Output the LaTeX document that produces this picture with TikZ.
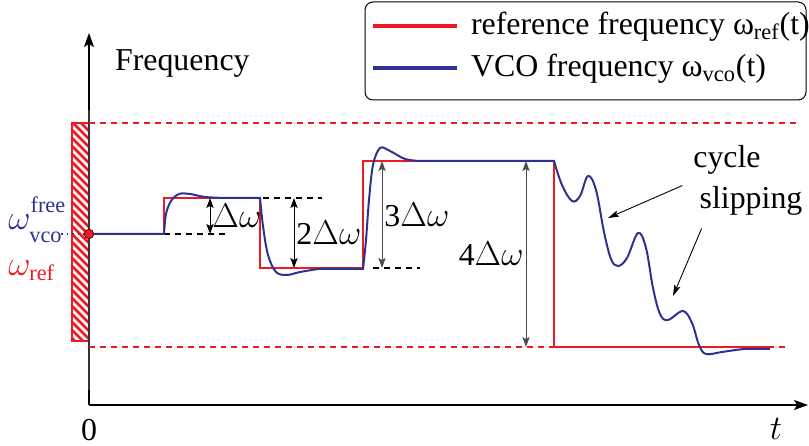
\documentclass[tikz,border=0pt]{standalone}
\usepackage{amsmath}
\usepackage{fontspec}
\setmainfont{Liberation Serif}
\usetikzlibrary{arrows.meta}
\definecolor{refred}{RGB}{237,28,36}
\definecolor{vcoblue}{RGB}{46,49,146}

\tikzset{
  axisline/.style={line width=0.7pt, -{Stealth[length=7pt,width=5pt,inset=1.5pt]}},
  refline/.style={refred, line width=1.2pt},
  vcoline/.style={vcoblue, line width=1pt},
  levelmark/.style={dash pattern=on 3pt off 2.5pt, line width=0.7pt},
  bound/.style={refred, dash pattern=on 3pt off 2.5pt, line width=0.7pt},
  dimarrow/.style={line width=0.5pt, {Stealth[length=5pt,width=3.6pt,inset=1pt]}-{Stealth[length=5pt,width=3.6pt,inset=1pt]}},
  sliparrow/.style={line width=0.45pt, -{Stealth[length=5.5pt,width=3.2pt,inset=1pt]}},
  dot/.style={circle, fill=refred, draw=red!50!black, line width=0.4pt, inner sep=0pt, minimum size=4.6bp}
}

\begin{document}
\begin{tikzpicture}[x=0.5bp, y=-0.5bp, font=\fontsize{16}{19}\selectfont]
        \useasboundingbox (0,0) rectangle (809,446);

        % axes
        \coordinate (O) at (89,405);
        \coordinate (ytip) at (89,33);
        \coordinate (xtip) at (808,405);
        \draw[axisline] (O) -- (ytip);
        \draw[axisline] (O) -- (xtip);
        \node[anchor=west] (freq) at (108,64) {Frequency};
        \node (zero) at (89,430) {0};
        \node (tlab) at (776,429) {$t$};

        % hatched band
        \begin{scope}
            \clip (72,123) rectangle (89,341);
            \foreach \y in {98,106,...,346} \draw[refred, line width=1.3pt] (72,\y) -- (89,\y+17);
        \end{scope}
        \draw[refred, line width=0.8pt] (72,123) rectangle (89,341);
        \draw[black!80, line width=0.7pt] (89,110) -- (89,390);

        \draw[bound] (89,123) -- (800,123);
        \draw[bound] (89,347) -- (790,347);

        % level marks
        \draw[levelmark] (164,234) -- (227,234);
        \draw[levelmark] (263,198) -- (322,198);
        \draw[levelmark] (373,268) -- (420,268);

        % reference frequency
        \draw[refline] (89,234) -- (164,234) -- (164,198) -- (260,198) -- (260,268)
            -- (363,268) -- (363,161) -- (554,161) -- (554,347) -- (770,347);

        % vco frequency
        \node[dot] (start) at (89,234) {};
        \draw[vcoline] (start.center) -- (164,234)
            -- plot[smooth, tension=0.55] coordinates {(164,234) (166,214) (171,201) (179,194) (190,194) (205,197) (225,198)} -- (260,198)
            -- plot[smooth, tension=0.55] coordinates {(260,198) (263,226) (268,255) (276,272) (287,275) (300,272) (318,269)} -- (363,269)
            -- plot[smooth, tension=0.55] coordinates {(363,269) (366,240) (369,200) (373,165) (380,148) (390,151) (405,159) (420,161)} -- (554,161)
            -- plot[smooth, tension=0.6] coordinates {(554,161) (562,185) (572,201) (580,196) (588,176) (596,190) (604,232) (611,259) (618,266) (627,258) (638,233) (646,248) (653,288) (660,314) (668,320) (683,311) (692,323) (699,345) (706,354) (722,352) (745,349) (770,349)};
        \node[dot] at (start) {};

        % left labels
        \node[vcoblue, anchor=west, inner sep=0pt] (wvco) at (8,220) {$\omega^{\raisebox{2pt}{$\scriptstyle\text{free}$}}_{\raisebox{-2.5pt}{$\scriptstyle\text{vco}$}}$};
        \coordinate (vcoend) at (61,234);
        \draw[vcoblue, line width=0.8pt, dotted] (vcoend) -- (start);
        \node[refred, anchor=west, inner sep=0pt] (wref) at (8,271) {$\omega_{\text{ref}}$};

        % steps
        \coordinate (d1t) at (210,198); \coordinate (d1b) at (210,234);
        \coordinate (d2t) at (294,198); \coordinate (d2b) at (294,268);
        \coordinate (d3t) at (382,161); \coordinate (d3b) at (382,268);
        \coordinate (d4t) at (526,161); \coordinate (d4b) at (526,347);
        \draw[dimarrow] (d1t) -- node[right, inner sep=1pt] {$\Delta\omega$} (d1b);
        \draw[dimarrow] (d2t) -- node[right, inner sep=1pt] {2$\Delta\omega$} (d2b);
        \draw[dimarrow, black!70] (d3t) -- node[right, inner sep=1pt, black] {3$\Delta\omega$} (d3b);
        \draw[dimarrow, black!70] (d4t) -- node[left, inner sep=1pt, black] {4$\Delta\omega$} (d4b);

        % cycle slipping
        \node (cyc) at (727,160) {cycle};
        \node (slip) at (751,201) {slipping};
        \coordinate (s1) at (608,218);
        \coordinate (s2) at (673,296);
        \draw[sliparrow] (cyc.south west) ++(-4,4) coordinate (c1) (c1) -- (s1);
        \draw[sliparrow] (slip.south west) ++(9,6) coordinate (c2) (c2) -- (s2);

        % legend
        \draw[rounded corners=4bp, line width=0.5pt] (365,2) rectangle (806,100);
        \draw[refred, line width=1.6pt] (373,26) -- (457,26);
        \draw[vcoblue, line width=1.6pt] (373,68) -- (457,68);
        \node[anchor=west] (legref) at (464,27) {reference frequency ω\textsubscript{ref}(t)};
        \node[anchor=west] (legvco) at (464,69) {VCO frequency ω\textsubscript{vco}(t)};
\end{tikzpicture}
\end{document}
